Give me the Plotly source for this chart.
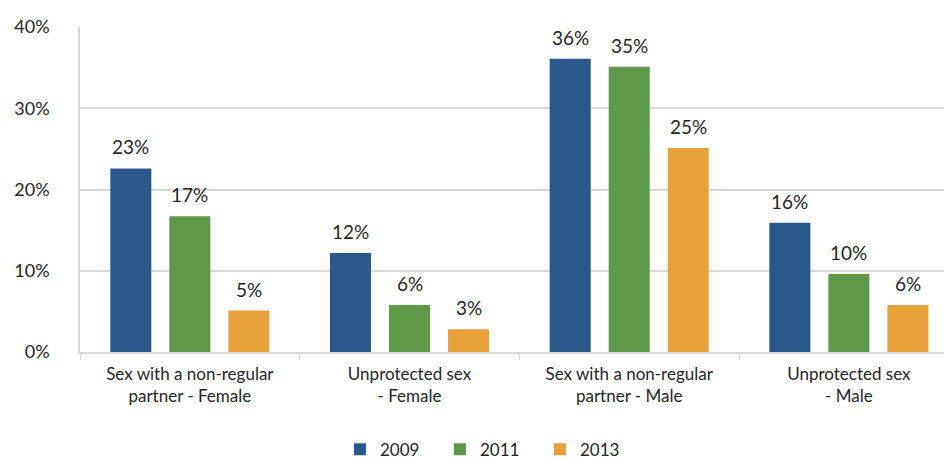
import plotly.graph_objects as go

categories = [
    "Sex with a non-regular<br>partner - Female",
    "Unprotected sex<br>- Female",
    "Sex with a non-regular<br>partner - Male",
    "Unprotected sex<br>- Male",
]
years = ["2009", "2011", "2013"]
values_2009 = [22.6, 12.2, 36.1, 15.9]
values_2011 = [16.7, 5.8, 35.1, 9.6]
values_2013 = [5.1, 2.8, 25.1, 5.8]
colors = ["#2B588A", "#5E994A", "#E8A03A"]

series = [values_2009, values_2011, values_2013]
FONT = "Lato"
TEXT = "#262626"
GRID = "#D9D9D9"
BARGAP = 0.194
BARGROUPGAP = 0.305

fig = go.Figure()
for year, vals, col in zip(years, series, colors):
    fig.add_trace(go.Bar(
        x=categories,
        y=vals,
        name=year,
        marker=dict(color=col, line=dict(width=0)),
    ))

# value labels centred over each bar of the group
slot = (1 - BARGAP) / len(series)
for j, vals in enumerate(series):
    offset = (j - (len(series) - 1) / 2) * slot
    for i, v in enumerate(vals):
        fig.add_annotation(
            x=i + offset, y=v, xref="x", yref="y",
            text=f"{round(v):.0f}%",
            showarrow=False,
            yanchor="bottom",
            yshift=8,
            font=dict(family=FONT, size=19, color=TEXT),
        )

fig.update_layout(
    width=944,
    height=459,
    margin=dict(l=80, r=0, t=27, b=107, autoexpand=False),
    paper_bgcolor="white",
    plot_bgcolor="white",
    barmode="group",
    bargap=BARGAP,
    bargroupgap=BARGROUPGAP,
    font=dict(family=FONT, size=17, color=TEXT),
    showlegend=True,
    legend=dict(
        orientation="h",
        x=284 / 944,
        xanchor="left",
        y=-0.245,
        yanchor="top",
        font=dict(family=FONT, size=17, color=TEXT),
        entrywidth=55,
        entrywidthmode="pixels",
        traceorder="normal",
    ),
    xaxis=dict(
        range=[-0.5, 3.433],
        showgrid=False,
        showline=True,
        linecolor=GRID,
        linewidth=1.5,
        ticks="outside",
        tickson="boundaries",
        ticklen=6,
        tickcolor=GRID,
        ticklabelstandoff=6,
        automargin=False,
        tickfont=dict(family=FONT, size=17, color=TEXT),
    ),
    yaxis=dict(
        range=[0, 40],
        tickvals=[0, 10, 20, 30, 40],
        ticktext=["0%", "10%", "20%", "30%", "40%"],
        showgrid=True,
        gridcolor=GRID,
        gridwidth=1.5,
        showline=True,
        linecolor=GRID,
        linewidth=1.5,
        zeroline=False,
        ticklabelstandoff=25,
        automargin=False,
        tickfont=dict(family=FONT, size=18, color=TEXT),
    ),
)

fig.write_html("out.html")
